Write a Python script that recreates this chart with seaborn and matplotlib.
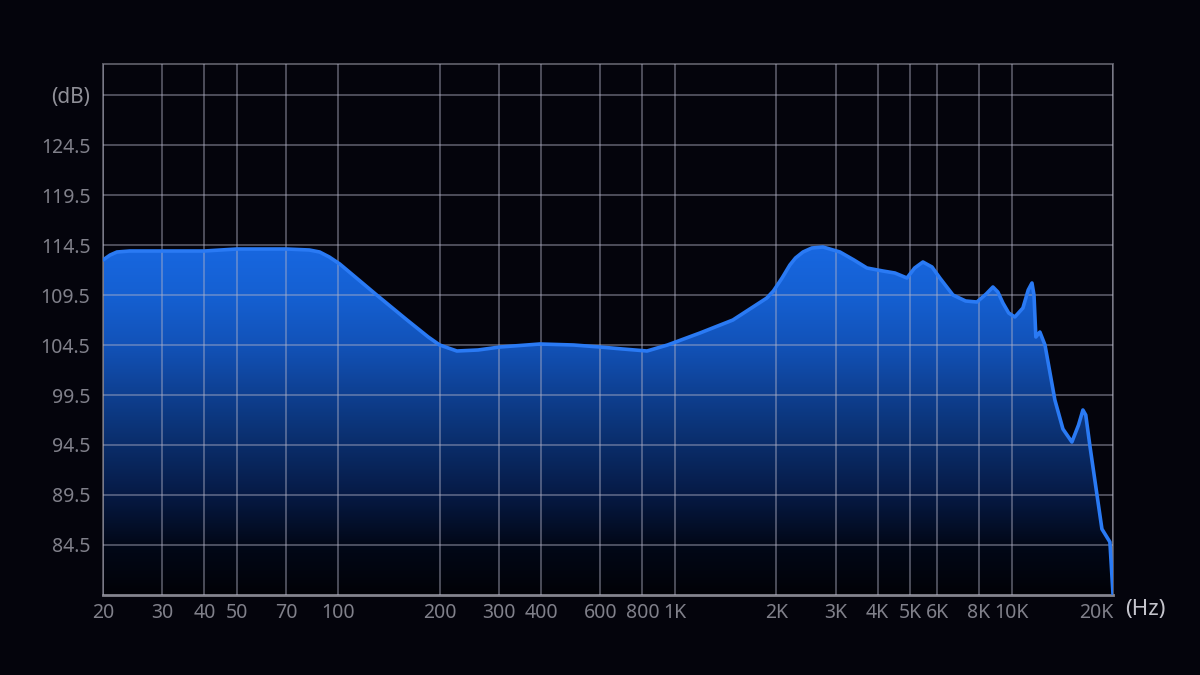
import numpy as np
import pandas as pd
import seaborn as sns
import matplotlib.pyplot as plt
from matplotlib.colors import LinearSegmentedColormap

# frequency response
freq_hz = [20, 21, 22, 24, 30, 40, 50, 70, 82, 88, 94, 101, 116, 130, 160, 185,
           200, 225, 260, 302, 397, 500, 598, 700, 826, 950, 1186, 1486, 1874,
           1960, 2080, 2194, 2280, 2400, 2550, 2750, 3090, 3400, 3716, 4146,
           4500, 4886, 5150, 5450, 5800, 6120, 6692, 7300, 7886, 8400, 8798,
           9100, 9420, 9800, 10220, 10800, 11200, 11490, 11650, 11800, 12130,
           12560, 13440, 14200, 15100, 15800, 16280, 16600, 17080, 18540,
           19580, 20000]
level_db = [113.0, 113.5, 113.8, 113.9, 113.9, 113.9, 114.1, 114.1, 114.0, 113.8,
            113.3, 112.6, 110.9, 109.5, 107.0, 105.3, 104.5, 103.9, 104.0, 104.3,
            104.6, 104.5, 104.3, 104.1, 103.9, 104.5, 105.7, 107.0, 109.2,
            109.9, 111.2, 112.5, 113.2, 113.8, 114.2, 114.3, 113.8, 113.0, 112.2,
            111.9, 111.7, 111.2, 112.2, 112.8, 112.3, 111.2, 109.5, 108.9, 108.8,
            109.6, 110.3, 109.8, 108.7, 107.7, 107.3, 108.2, 110.0, 110.7, 109.5,
            105.3, 105.8, 104.5, 99.0, 96.1, 94.8, 96.5, 98.0, 97.5, 94.4, 86.1,
            84.8, 79.6]

x_ticks = [20, 30, 40, 50, 70, 100, 200, 300, 400, 600, 800, 1000, 2000, 3000,
           4000, 5000, 6000, 8000, 10000, 20000]
x_labels = ["20", "30", "40", "50", "70", "100", "200", "300", "400", "600",
            "800", "1K", "2K", "3K", "4K", "5K", "6K", "8K", "10K", "20K"]
y_ticks = [84.5, 89.5, 94.5, 99.5, 104.5, 109.5, 114.5, 119.5, 124.5, 129.5]
y_labels = ["84.5", "89.5", "94.5", "99.5", "104.5", "109.5", "114.5", "119.5",
            "124.5", "(dB)"]

y_min, y_max = 79.5, 132.6
bg = "#04040c"

sns.set_theme(style="dark")
plt.rcParams["font.family"] = ["Noto Sans", "DejaVu Sans"]

df = pd.DataFrame({"freq": freq_hz, "db": level_db})

fig = plt.figure(figsize=(12, 6.75), dpi=100, facecolor=bg)
ax = fig.add_axes([103 / 1200, 80 / 675, 1010 / 1200, 531 / 675])
ax.set_facecolor(bg)
ax.set_xscale("log")
ax.set_xlim(20, 20000)
ax.set_ylim(y_min, y_max)

# gradient fill under the curve, colour stops by dB level
grad_top = 115.0
stops_db = [79.5, 84.5, 89.5, 94.5, 99.5, 104.5, 109.5, 115.0]
stops_col = ["#010207", "#020818", "#061a45", "#0a2d6a", "#0e3f90",
             "#1252b8", "#1560d2", "#1868e2"]
cmap = LinearSegmentedColormap.from_list(
    "fr", [((d - y_min) / (grad_top - y_min), c) for d, c in zip(stops_db, stops_col)])
poly = ax.fill_between(df["freq"], df["db"], y_min, color="none", lw=0)
grad = np.linspace(0, 1, 256).reshape(-1, 1)
top_frac = (grad_top - y_min) / (y_max - y_min)
img = ax.imshow(grad, cmap=cmap, aspect="auto", origin="lower",
                extent=[0, 1, 0, top_frac], transform=ax.transAxes, zorder=1)
img.set_clip_path(poly.get_paths()[0], transform=poly.get_transform())

sns.lineplot(data=df, x="freq", y="db", ax=ax, color="#2a7af4", lw=2.6,
             zorder=4, estimator=None)

ax.set_axisbelow(False)
ax.grid(True, which="major", color="#b4b4c8", alpha=0.42, lw=1.4)
ax.grid(False, which="minor")
ax.set_xticks(x_ticks)
ax.set_xticklabels(x_labels)
ax.xaxis.set_minor_locator(plt.NullLocator())
ax.set_yticks(y_ticks)
ax.set_yticklabels(y_labels)
ax.tick_params(axis="both", length=0, colors="#80808a", labelsize=14)
ax.tick_params(axis="x", pad=6)
ax.tick_params(axis="y", pad=9)
for lab in ax.get_xticklabels() + ax.get_yticklabels():
    lab.set_fontweight("light")
ax.get_xticklabels()[-1].set_horizontalalignment("right")
ax.get_yticklabels()[-1].set_fontsize(15)
ax.get_yticklabels()[-1].set_color("#909098")
ax.set_xlabel("")
ax.set_ylabel("")

for side in ["top", "right", "left"]:
    ax.spines[side].set_visible(True)
    ax.spines[side].set_color("#55555f")
    ax.spines[side].set_linewidth(1.4)
ax.spines["bottom"].set_visible(True)
ax.spines["bottom"].set_color("#84848e")
ax.spines["bottom"].set_linewidth(2)

fig.text(1145 / 1200, 1 - 609 / 675, "(Hz)", color="#c4c4cc", fontsize=16,
         ha="center", va="center", fontweight="light")

fig.savefig("out.png", dpi=100, facecolor=bg)
